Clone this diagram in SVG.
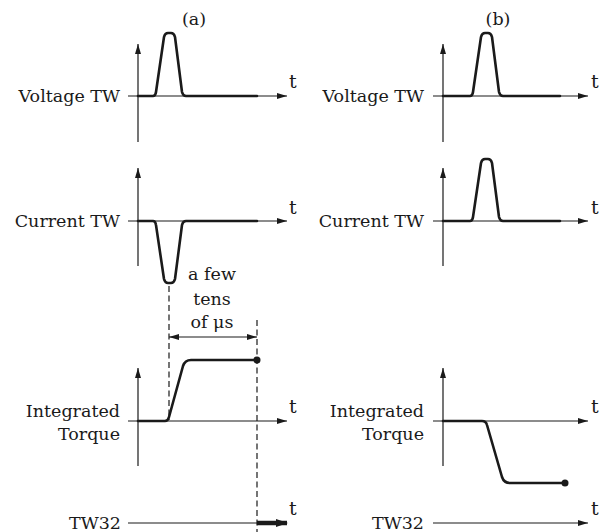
<svg xmlns="http://www.w3.org/2000/svg" width="605" height="532" viewBox="0 0 605 532">
<defs>
<marker id="ah" viewBox="0 0 10 6" refX="10" refY="3" markerWidth="10" markerHeight="6" markerUnits="userSpaceOnUse" orient="auto-start-reverse">
<path d="M0,0 L10,3 L0,6 Z" fill="#1a1a1a"/>
</marker>
<marker id="bh" viewBox="0 0 12 8" refX="11" refY="4" markerWidth="12" markerHeight="8" markerUnits="userSpaceOnUse" orient="auto">
<path d="M0,0 L12,4 L0,8 Z" fill="#1a1a1a"/>
</marker>
</defs>
<style>
.ax{stroke:#1a1a1a;stroke-width:1.2;fill:none}
.sig{stroke:#1a1a1a;stroke-width:2.6;fill:none;stroke-linejoin:round;stroke-linecap:round}
.dash{stroke:#1a1a1a;stroke-width:1.2;fill:none;stroke-dasharray:6,3.5}
text{font-family:"DejaVu Serif","Liberation Serif",serif;font-size:17.5px;fill:#1a1a1a}
.r{text-anchor:end}
.c{text-anchor:middle}
.t{font-size:19px}
</style>
<rect width="605" height="532" fill="#ffffff"/>
<g id="titles">
<text class="c" x="194" y="25">(a)</text>
<text class="c" x="498" y="25">(b)</text>
</g>
<g id="voltage-a">
<text class="r" x="120" y="102">Voltage TW</text>
<line class="ax" x1="138" y1="142" x2="138" y2="44" marker-end="url(#ah)"/>
<line class="ax" x1="128" y1="96" x2="287" y2="96" marker-end="url(#ah)"/>
<text class="t" x="289" y="88">t</text>
<path class="sig" d="M138,96 H153 Q155.5,96 156,92 L164,37 Q165,33 168,33 H171 Q174,33 175,37 L182,92 Q183,96 186,96 H257"/>
</g>
<g id="voltage-b">
<text class="r" x="424" y="102">Voltage TW</text>
<line class="ax" x1="443" y1="142" x2="443" y2="44" marker-end="url(#ah)"/>
<line class="ax" x1="433" y1="96" x2="588" y2="96" marker-end="url(#ah)"/>
<text class="t" x="591" y="88">t</text>
<path class="sig" d="M443,96 H470 Q472.5,96 473,92 L481,37 Q482,33 485,33 H488 Q491,33 492,37 L499,92 Q500,96 503,96 H560"/>
</g>
<g id="current-a">
<text class="r" x="120" y="227">Current TW</text>
<line class="ax" x1="138" y1="266" x2="138" y2="168" marker-end="url(#ah)"/>
<line class="ax" x1="128" y1="221" x2="287" y2="221" marker-end="url(#ah)"/>
<text class="t" x="289" y="214">t</text>
<path class="sig" d="M138,221 H153 Q155.5,221 156,225 L164,279 Q165,283 168,283 H171 Q174,283 175,279 L182,225 Q183,221 186,221 H257"/>
</g>
<g id="current-b">
<text class="r" x="424" y="227">Current TW</text>
<line class="ax" x1="443" y1="266" x2="443" y2="168" marker-end="url(#ah)"/>
<line class="ax" x1="433" y1="221" x2="588" y2="221" marker-end="url(#ah)"/>
<text class="t" x="591" y="214">t</text>
<path class="sig" d="M443,221 H470 Q472.5,221 473,217 L481,163 Q482,159 485,159 H488 Q491,159 492,163 L499,217 Q500,221 503,221 H560"/>
</g>
<g id="duration-label">
<text class="c" x="212" y="280">a few</text>
<text class="c" x="212" y="305">tens</text>
<text class="c" x="212" y="328">of μs</text>
</g>
<g id="torque-a">
<text class="r" x="120" y="417">Integrated</text>
<text class="r" x="120" y="440">Torque</text>
<line class="ax" x1="138" y1="466" x2="138" y2="368" marker-end="url(#ah)"/>
<line class="ax" x1="128" y1="421" x2="287" y2="421" marker-end="url(#ah)"/>
<text class="t" x="289" y="413">t</text>
<path class="sig" d="M138,421 H165 Q168,421 169,417 L183,366 Q185,360 191,360 H257"/>
<circle cx="257" cy="360" r="3.5" fill="#1a1a1a"/>
</g>
<g id="torque-b">
<text class="r" x="424" y="417">Integrated</text>
<text class="r" x="424" y="440">Torque</text>
<line class="ax" x1="443" y1="466" x2="443" y2="368" marker-end="url(#ah)"/>
<line class="ax" x1="433" y1="421" x2="588" y2="421" marker-end="url(#ah)"/>
<text class="t" x="591" y="413">t</text>
<path class="sig" d="M443,421 H482 Q486,421 487,425 L502,477 Q504,483 510,483 H565"/>
<circle cx="565" cy="483" r="3.5" fill="#1a1a1a"/>
</g>
<g id="tw32-a">
<text class="r" x="121" y="529">TW32</text>
<line class="ax" x1="128" y1="523" x2="258" y2="523"/>
<line stroke="#1a1a1a" stroke-width="4.5" x1="257" y1="523" x2="287" y2="523" marker-end="url(#bh)"/>
<text class="t" x="289" y="515">t</text>
</g>
<g id="tw32-b">
<text class="r" x="424" y="529">TW32</text>
<line class="ax" x1="433" y1="523" x2="588" y2="523" marker-end="url(#ah)"/>
<text class="t" x="591" y="515">t</text>
</g>
<g id="connectors">
<line class="dash" x1="169" y1="286" x2="169" y2="420"/>
<line class="dash" x1="257" y1="320" x2="257" y2="532"/>
<line class="ax" x1="169" y1="337" x2="257" y2="337" marker-start="url(#ah)" marker-end="url(#ah)"/>
</g>
</svg>
